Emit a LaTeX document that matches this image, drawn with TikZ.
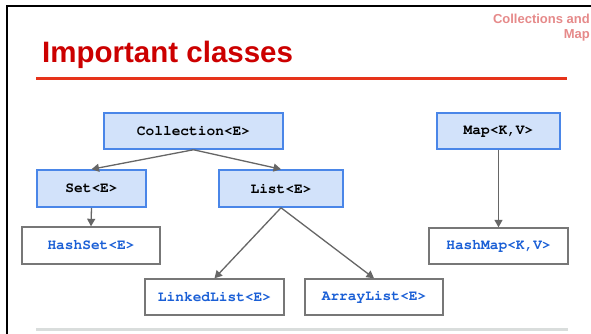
\documentclass[tikz,border=0pt]{standalone}
\usepackage[T1]{fontenc}
\usepackage{fontspec}
\setmainfont{Liberation Sans}
\setmonofont{Liberation Mono}
\usetikzlibrary{arrows.meta}
\newcommand\courbold{\fontencoding{T1}\fontfamily{pcr}\fontseries{b}\fontshape{n}\fontsize{14.5}{16}\selectfont}
\definecolor{titlered}{HTML}{CC0000}
\definecolor{rulered}{HTML}{E6331A}
\definecolor{subred}{HTML}{E68A8A}
\definecolor{ifblue}{HTML}{4A86E8}
\definecolor{iffill}{HTML}{D2E2FA}
\definecolor{leafblue}{HTML}{1A5FD6}
\definecolor{leafgray}{HTML}{777777}
\definecolor{arrgray}{HTML}{666666}
\definecolor{footgray}{HTML}{D9DDDC}
\begin{document}
\begin{tikzpicture}[x=1pt,y=-1pt,
  iface/.style={draw=ifblue, fill=iffill, line width=1.5pt, inner sep=0pt,
    font=\courbold, text=black},
  leaf/.style={draw=leafgray, fill=white, line width=1.4pt, inner sep=0pt,
    font=\courbold, text=leafblue},
  arr/.style={draw=arrgray, line width=1.3pt, -{Triangle[length=7.5pt,width=8pt]}}]
\useasboundingbox (0,0) rectangle (591,333);
\clip (0,0) rectangle (591,333);
\fill[white] (0,0) rectangle (591,333);
% frame
\draw[black, line width=2pt] (7,345) -- (7,6) -- (600,6);
% title
\node[anchor=base west, inner sep=0pt, text=titlered,
  font=\bfseries\fontsize{29.5}{32}\selectfont] (title) at (42,62.3) {Important classes};
\draw[rulered, line width=2.7pt] (36,78.7) -- (567,78.7);
\node[anchor=north east, inner sep=0pt, align=right, text=subred,
  font=\bfseries\fontsize{13}{15}\selectfont] (sub) at (590,14) {Collections and\\Map};
% footer rule
\draw[footgray, line width=3pt] (36,329) -- (568,329);
% nodes
\node[iface, minimum width=179pt, minimum height=36pt] (coll) at (193.5,131) {Collection<E>};
\node[iface, minimum width=109pt, minimum height=37pt] (set) at (91.5,188.5) {Set<E>};
\node[iface, minimum width=124pt, minimum height=37pt] (list) at (281,188.5) {List<E>};
\node[iface, minimum width=123pt, minimum height=36pt] (map) at (498.5,131) {Map<K,V>};
\node[leaf, minimum width=138pt, minimum height=37pt] (hashset) at (91,245.5) {HashSet<E>};
\node[leaf, minimum width=139pt, minimum height=36pt] (hashmap) at (498.5,246) {HashMap<K,V>};
\node[leaf, minimum width=139pt, minimum height=36pt] (linked) at (214.5,297) {LinkedList<E>};
\node[leaf, minimum width=138pt, minimum height=36pt] (array) at (374,297) {ArrayList<E>};
% connectors
\draw[arr] (coll.south) -- (set.north);
\draw[arr] (coll.south) -- (list.north);
\draw[arr] (set.south) -- (hashset.north);
\draw[arr] (list.south) -- (linked.north);
\draw[arr] (list.south) -- (array.north);
\draw[arr] (map.south) -- (hashmap.north);
\end{tikzpicture}
\end{document}
